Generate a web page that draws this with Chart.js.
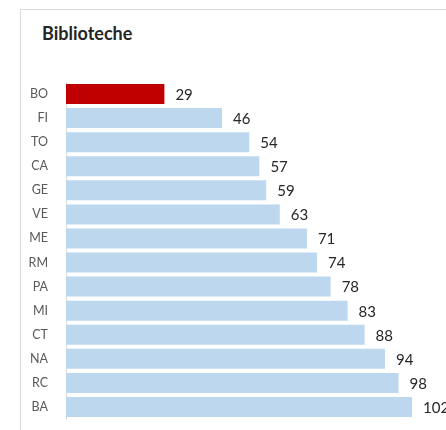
<!DOCTYPE html>
<html>
<head>
<meta charset="utf-8">
<script src="https://cdn.jsdelivr.net/npm/chart.js@4"></script>
<style>
  body { margin: 0; background: #fff; overflow: hidden; }
  #wrap { position: relative; width: 446px; height: 430px; overflow: hidden; }
  #frame { position: absolute; left: 20px; top: 9px; width: 460px; height: 440px; border: 1px solid #d9d9d9; }
  #title { position: absolute; left: 42px; top: 22px; font: bold 18px Lato, sans-serif; color: #262626; }
  #chart { position: absolute; left: 0; top: 0; }
</style>
</head>
<body>
<div id="wrap">
  <div id="frame"></div>
  <div id="title">Biblioteche</div>
  <canvas id="chart" width="446" height="430"></canvas>
</div>
<script>
const cities = ["BO", "FI", "TO", "CA", "GE", "VE", "ME", "RM", "PA", "MI", "CT", "NA", "RC", "BA"];
const libraries = [29, 46, 54, 57, 59, 63, 71, 74, 78, 83, 88, 94, 98, 102];
const highlight = "BO";

const barColors = cities.map(c => c === highlight ? "#c00000" : "#bdd7ee");

// draw the value next to each bar
const valueLabels = {
  id: "valueLabels",
  afterDatasetsDraw(chart) {
    const ctx = chart.ctx;
    const meta = chart.getDatasetMeta(0);
    ctx.save();
    ctx.font = "15px Lato, sans-serif";
    ctx.fillStyle = "#262626";
    ctx.textBaseline = "middle";
    meta.data.forEach((bar, i) => {
      ctx.fillText(libraries[i], bar.x + 11, bar.y + 1);
    });
    ctx.restore();
  }
};

new Chart(document.getElementById("chart"), {
  type: "bar",
  data: {
    labels: cities,
    datasets: [{
      data: libraries,
      backgroundColor: barColors,
      categoryPercentage: 1,
      barPercentage: 0.83
    }]
  },
  options: {
    indexAxis: "y",
    responsive: false,
    animation: false,
    layout: { padding: { top: 82, bottom: 11, left: 0, right: 0 } },
    plugins: { legend: { display: false }, tooltip: { enabled: false } },
    scales: {
      x: { display: false, min: 0, max: 112 },
      y: {
        afterFit(scale) {
          scale.width = 66;
          // tick padding shouldn't push the plot area in from top/bottom
          scale.paddingTop = 0;
          scale.paddingBottom = 0;
        },
        grid: { display: false, drawTicks: false },
        border: { display: true, color: "#d9d9d9" },
        ticks: { padding: 18, color: "#595959", font: { family: "Lato", size: 12.5 } }
      }
    }
  },
  plugins: [valueLabels]
});
</script>
</body>
</html>
